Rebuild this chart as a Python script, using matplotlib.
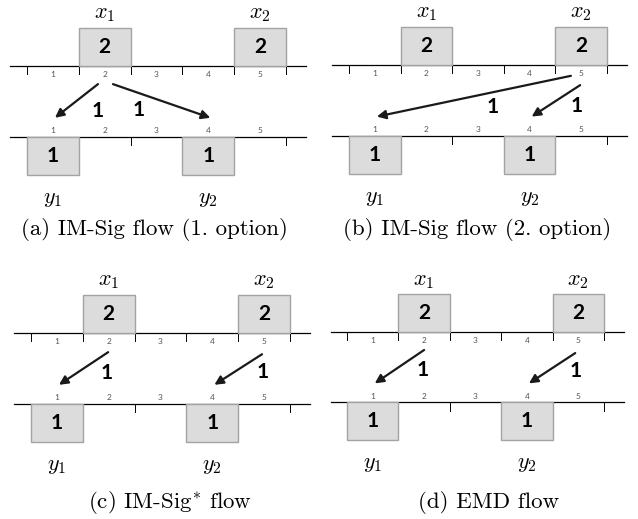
import matplotlib.pyplot as plt
from matplotlib.patches import Rectangle

plt.rcParams["mathtext.fontset"] = "cm"

bins = [1, 2, 3, 4, 5]
x_bins = [2, 5]
x_weights = [2, 2]
x_names = [r"$x_1$", r"$x_2$"]
y_bins = [1, 4]
y_weights = [1, 1]
y_names = [r"$y_1$", r"$y_2$"]

# flows per panel: (from x bin, to y bin, amount)
flows_a = [(2, 1, 1), (2, 4, 1)]
flows_b = [(5, 1, 1), (5, 4, 1)]
flows_c = [(2, 1, 1), (5, 4, 1)]
flows_d = [(2, 1, 1), (5, 4, 1)]

captions = ["(a) IM-Sig flow (1. option)", "(b) IM-Sig flow (2. option)",
            "(c) IM-Sig$^{*}$ flow", "(d) EMD flow"]

W, H = 638, 519
BOX_H = 0.74
GAP = 1.37
FACE = "#dcdcdc"
EDGE = "#a3a3a3"
DIGIT_FONT = "Lato"

# panel layout in pixels: left, top, width, height, tick0 x, top axis y, unit,
# caption centre x / baseline y, arrow start tweaks, label offsets
panels = [
    dict(rect=(0, 0, 319, 260), x0=27, ty=66, u=51.8, cap_x=154, cap_y=235,
         flows=flows_a, start=[(-0.13, -0.35), (0.16, -0.35)],
         lab=[(0.40, -0.19), (-0.45, -0.165)]),
    dict(rect=(319, 0, 319, 260), x0=349, ty=65, u=51.6, cap_x=477, cap_y=235,
         flows=flows_b, start=[(-0.2, -0.21), (-0.02, -0.39)],
         lab=[(0.36, -0.20), (0.40, -0.10)]),
    dict(rect=(0, 260, 319, 259), x0=31, ty=333, u=51.8, cap_x=170, cap_y=508,
         flows=flows_c, start=[(-0.01, -0.37), (-0.04, -0.41)],
         lab=[(0.45, -0.08), (0.47, -0.05)]),
    dict(rect=(319, 260, 319, 259), x0=347, ty=332, u=51.4, cap_x=489, cap_y=508,
         flows=flows_d, start=[(0.0, -0.35), (-0.06, -0.41)],
         lab=[(0.45, -0.06), (0.46, -0.06)]),
]

fig = plt.figure(figsize=(W / 100, H / 100), dpi=100)

for p, cap in zip(panels, captions):
    L, T, PW, PH = p["rect"]
    ax = fig.add_axes([L / W, (H - T - PH) / H, PW / W, PH / H])
    u = p["u"]
    ax.set_xlim((L - p["x0"]) / u, (L + PW - p["x0"]) / u)
    ax.set_ylim((p["ty"] - (T + PH)) / u, (p["ty"] - T) / u)
    ax.axis("off")

    # axis lines and ticks
    for yb in [0, -GAP]:
        ax.plot([-0.32, 5.38], [yb, yb], color="black", lw=0.9, zorder=2)
        for t in range(len(bins) + 1):
            ax.plot([t, t], [yb, yb - 0.16], color="black", lw=0.7, zorder=1)
    for b in bins:
        ax.text(b - 0.5, -0.16, str(b), ha="center", va="center", fontsize=6,
                color="#555555", family=DIGIT_FONT)
        ax.text(b - 0.5, -GAP + 0.12, str(b), ha="center", va="center",
                fontsize=6, color="#555555", family=DIGIT_FONT)

    # source histogram
    for b, w, name in zip(x_bins, x_weights, x_names):
        ax.add_patch(Rectangle((b - 1, 0), 1, BOX_H, facecolor=FACE,
                               edgecolor=EDGE, lw=1.0, zorder=3))
        ax.text(b - 0.5, BOX_H / 2, str(w), ha="center", va="center",
                fontsize=15, fontweight="bold", family=DIGIT_FONT, zorder=4)
        ax.text(b - 0.5, 1.0, name, ha="center", va="center", fontsize=16)

    # target histogram
    for b, w, name in zip(y_bins, y_weights, y_names):
        ax.add_patch(Rectangle((b - 1, -GAP - BOX_H), 1, BOX_H, facecolor=FACE,
                               edgecolor=EDGE, lw=1.0, zorder=3))
        ax.text(b - 0.5, -GAP - BOX_H / 2, str(w), ha="center", va="center",
                fontsize=15, fontweight="bold", family=DIGIT_FONT, zorder=4)
        ax.text(b - 0.5, -2.57, name, ha="center", va="center", fontsize=16)

    # flows
    for (src, dst, amt), (dx, sy), (lx, ly) in zip(p["flows"], p["start"], p["lab"]):
        start = (src - 0.5 + dx, sy)
        end = (dst - 0.5 + 0.04, -1.0)
        ax.annotate("", xy=end, xytext=start,
                    arrowprops=dict(arrowstyle="-|>", color="#1a1a1a", lw=1.6,
                                    mutation_scale=13, shrinkA=0, shrinkB=0))
        mx = (start[0] + end[0]) / 2 + lx
        my = (start[1] + end[1]) / 2 + ly
        ax.text(mx, my, str(amt), ha="center", va="center", fontsize=15,
                fontweight="bold", family=DIGIT_FONT)

    ax.text((p["cap_x"] - p["x0"]) / u, (p["ty"] - p["cap_y"]) / u, cap,
            ha="center", va="baseline", fontsize=16.5, family="cmr10")

fig.savefig("out.png", dpi=100)
